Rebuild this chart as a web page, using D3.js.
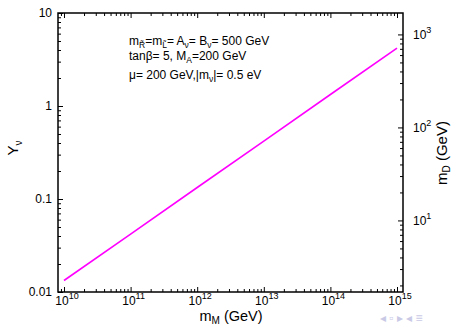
<!DOCTYPE html>
<html><head><meta charset="utf-8">
<script src="https://cdn.jsdelivr.net/npm/d3@7"></script>
<style>
body{margin:0;background:#fff;}
svg{display:block;font-family:"Liberation Sans",Arial,sans-serif;}
</style></head><body>
<svg id="chart" width="454" height="327"></svg>
<script>
// ---- data ----
const mM = [1e10, 1e11, 1e12, 1e13, 1e14, 1e15];           // m_M (GeV)
const Ynu = [0.0133, 0.042, 0.133, 0.42, 1.33, 4.2];         // Y_nu
const xTickExp = [10, 11, 12, 13, 14, 15];
const yTickVals = [0.01, 0.1, 1, 10];
const yTickLabels = ["0.01", "0.1", "1", "10"];
const rTickExp = [1, 2, 3];
const xDomain = [Math.pow(10, 9.91), Math.pow(10, 15.09)];
const yDomain = [0.01, 10];
const rDomain = [1.7, 1700];

const svg = d3.select("#chart");
const L = 58, R = 403, T = 13, B = 292;
const x = d3.scaleLog().domain(xDomain).range([L, R]);
const y = d3.scaleLog().domain(yDomain).range([B, T]);
const yr = d3.scaleLog().domain(rDomain).range([B, T]);

function minors(lo, hi) {
  const out = [];
  for (let e = Math.floor(Math.log10(lo)); e <= Math.ceil(Math.log10(hi)); e++)
    for (let k = 2; k <= 9; k++) { const v = k * Math.pow(10, e); if (v >= lo && v <= hi) out.push(v); }
  return out;
}
const xMaj = xTickExp.map(e => Math.pow(10, e));
const rMaj = rTickExp.map(e => Math.pow(10, e));

function styleAxis(g) {
  g.select(".domain").remove();
  g.selectAll("line").attr("stroke", "#000").attr("stroke-width", 1);
}
// bottom
svg.append("g").attr("transform", `translate(0,${B})`)
  .call(d3.axisBottom(x).tickValues(xMaj).tickSizeInner(-5).tickSizeOuter(0).tickFormat(""))
  .call(styleAxis);
svg.append("g").attr("transform", `translate(0,${B})`)
  .call(d3.axisBottom(x).tickValues(minors(...xDomain)).tickSizeInner(-3).tickSizeOuter(0).tickFormat(""))
  .call(styleAxis);
// top
svg.append("g").attr("transform", `translate(0,${T})`)
  .call(d3.axisTop(x).tickValues(xMaj).tickSizeInner(-5).tickSizeOuter(0).tickFormat(""))
  .call(styleAxis);
svg.append("g").attr("transform", `translate(0,${T})`)
  .call(d3.axisTop(x).tickValues(minors(...xDomain)).tickSizeInner(-3).tickSizeOuter(0).tickFormat(""))
  .call(styleAxis);
// left
svg.append("g").attr("transform", `translate(${L},0)`)
  .call(d3.axisLeft(y).tickValues(yTickVals).tickSizeInner(-5).tickSizeOuter(0).tickFormat(""))
  .call(styleAxis);
svg.append("g").attr("transform", `translate(${L},0)`)
  .call(d3.axisLeft(y).tickValues(minors(...yDomain)).tickSizeInner(-3).tickSizeOuter(0).tickFormat(""))
  .call(styleAxis);
// right
svg.append("g").attr("transform", `translate(${R},0)`)
  .call(d3.axisRight(yr).tickValues(rMaj).tickSizeInner(-5).tickSizeOuter(0).tickFormat(""))
  .call(styleAxis);
svg.append("g").attr("transform", `translate(${R},0)`)
  .call(d3.axisRight(yr).tickValues(minors(...rDomain)).tickSizeInner(-3).tickSizeOuter(0).tickFormat(""))
  .call(styleAxis);

// frame
svg.append("rect").attr("x", L).attr("y", T).attr("width", R - L).attr("height", B - T)
  .attr("fill", "none").attr("stroke", "#000").attr("stroke-width", 1.5);

// tick labels
const fs = 12;
xTickExp.forEach(e => {
  const t = svg.append("text").attr("x", x(Math.pow(10, e)) + 3).attr("y", B + 13)
    .attr("text-anchor", "middle").attr("font-size", fs);
  t.append("tspan").text("10");
  t.append("tspan").attr("dy", -6).attr("font-size", 9).text(e);
});
yTickVals.forEach((v, i) => {
  svg.append("text").attr("x", L - 6).attr("y", y(v) + 4)
    .attr("text-anchor", "end").attr("font-size", fs).text(yTickLabels[i]);
});
rTickExp.forEach(e => {
  const t = svg.append("text").attr("x", R + 10).attr("y", yr(Math.pow(10, e)) + 5)
    .attr("font-size", fs);
  t.append("tspan").text("10");
  t.append("tspan").attr("dy", -6).attr("font-size", 9).text(e);
});

// line
svg.append("path").datum(mM.map((m, i) => [m, Ynu[i]]))
  .attr("fill", "none").attr("stroke", "#ff00ff").attr("stroke-width", 1.6)
  .attr("d", d3.line().x(d => x(d[0])).y(d => y(d[1])));

// axis titles
const xt = svg.append("text").attr("x", 231).attr("y", 321).attr("text-anchor", "middle").attr("font-size", 14.5);
xt.append("tspan").text("m");
xt.append("tspan").attr("dy", 3).attr("font-size", 10).text("M");
xt.append("tspan").attr("dy", -3).text(" (GeV)");

const yt = svg.append("text").attr("transform", "translate(18,148) rotate(-90)").attr("text-anchor", "middle").attr("font-size", 15);
yt.append("tspan").text("Y");
yt.append("tspan").attr("dy", 4).attr("font-size", 10).text("ν");

const rt = svg.append("text").attr("transform", "translate(447,153) rotate(-90)").attr("text-anchor", "middle").attr("font-size", 15);
rt.append("tspan").text("m");
rt.append("tspan").attr("dy", 3).attr("font-size", 10).text("D");
rt.append("tspan").attr("dy", -3).text(" (GeV)");

// annotation
const afs = 12, sfs = 8.5;
function ann(yPos, parts) {
  const t = svg.append("text").attr("x", 129).attr("y", yPos).attr("font-size", afs);
  let cur = 0;
  parts.forEach(p => {
    const s = t.append("tspan").text(p[0]);
    if (p[1] === "sub") { s.attr("font-size", sfs).attr("dy", 3 - cur); cur = 3; }
    else { s.attr("dy", -cur); cur = 0; }
  });
}
ann(45, [["m"], ["R\u0303", "sub"], ["=m"], ["L\u0303", "sub"], ["= A"], ["ν", "sub"], ["= B"], ["ν", "sub"], ["= 500 GeV"]]);
ann(60, [["tanβ= 5, M"], ["A", "sub"], ["=200 GeV"]]);
ann(79, [["μ= 200 GeV,|m"], ["ν", "sub"], ["|= 0.5 eV"]]);

// faint beamer navigation symbols
svg.append("text").attr("x", 380).attr("y", 322).attr("font-size", 12).attr("fill", "#c9c9e6")
  .text("◂ ▫ ▸ ◂ ≡");
</script>
</body></html>
